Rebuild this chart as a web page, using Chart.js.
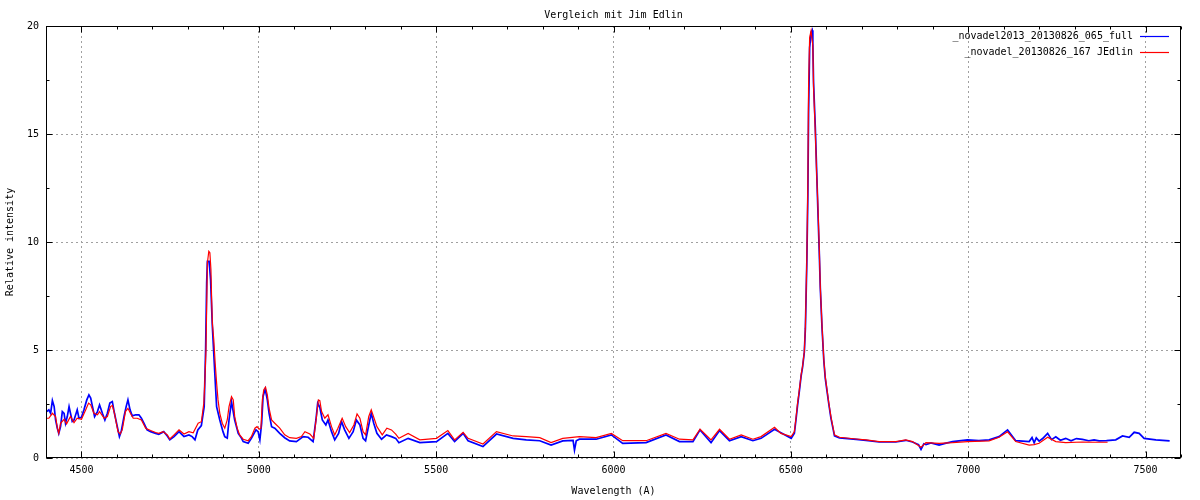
<!DOCTYPE html>
<html>
<head>
<meta charset="utf-8">
<title>Vergleich mit Jim Edlin</title>
<script src="https://cdn.jsdelivr.net/npm/chart.js@4.4.1/dist/chart.umd.min.js"></script>
<style>
  html, body { margin: 0; padding: 0; background: #fff; }
  #wrap { width: 1200px; height: 500px; }
</style>
</head>
<body>
<div id="wrap"><canvas id="myChart" width="1200" height="500"></canvas></div>
<script>
// spectrum 1 (blue)
var blueWave = [
  4402,4408,4413,4418,4423,4427,4432,4436,4441,4446,
  4451,4455,4460,4465,4469,4474,4479,4488,4493,4500,
  4507,4515,4521,4526,4530,4537,4545,4551,4559,4566,
  4573,4580,4587,4593,4601,4607,4612,4620,4626,4631,
  4637,4643,4653,4662,4669,4676,4685,4695,4709,4718,
  4732,4742,4749,4761,4775,4789,4803,4812,4820,4828,
  4838,4846,4850,4853,4855,4860,4864,4869,4876,4881,
  4890,4899,4904,4911,4916,4923,4932,4942,4951,4956,
  4970,4979,4992,4998,5003,5008,5012,5018,5024,5029,
  5036,5045,5059,5073,5087,5106,5125,5139,5153,5161,
  5166,5172,5179,5189,5195,5205,5214,5225,5233,5242,
  5254,5266,5275,5285,5294,5301,5311,5317,5324,5333,
  5346,5360,5374,5386,5395,5421,5454,5501,5533,5552,
  5576,5590,5632,5670,5717,5754,5792,5824,5857,5886,
  5890,5895,5904,5951,5994,6026,6092,6148,6186,6224,
  6244,6275,6299,6327,6360,6393,6416,6454,6472,6501,
  6510,6515,6519,6524,6529,6533,6538,6541,6545,6548,
  6550,6553,6557,6560,6562,6564,6569,6573,6576,6580,
  6583,6588,6593,6597,6602,6607,6613,6623,6637,6684,
  6712,6749,6796,6824,6843,6860,6867,6875,6881,6895,
  6918,6935,6956,6998,7030,7059,7087,7111,7134,7172,
  7180,7186,7192,7200,7210,7224,7235,7247,7260,7275,
  7290,7305,7322,7340,7355,7369,7390,7416,7435,7454,
  7468,7482,7496,7529,7568
];
var blueFlux = [
  2.15,2.23,2.07,2.66,2.38,1.76,1.38,1.14,1.45,2.15,
  2.07,1.61,1.92,2.38,2.07,1.69,1.76,2.23,1.84,1.89,
  2.23,2.69,2.92,2.77,2.46,1.92,2.15,2.46,2.07,1.76,
  2.07,2.54,2.61,2.07,1.45,0.99,1.22,1.92,2.38,2.69,
  2.23,1.95,2.0,2.0,1.84,1.61,1.3,1.22,1.14,1.1,
  1.22,1.02,0.84,0.99,1.22,0.99,1.07,0.99,0.84,1.3,
  1.5,2.38,5.0,8.1,9.1,9.1,8.26,6.1,3.9,2.38,
  1.76,1.22,0.99,0.92,1.76,2.61,1.76,1.14,0.92,0.76,
  0.68,0.91,1.3,1.22,0.84,1.61,2.85,3.19,2.69,2.07,
  1.45,1.38,1.14,0.94,0.79,0.76,0.99,0.96,0.76,1.76,
  2.54,2.35,1.76,1.53,1.76,1.22,0.84,1.14,1.69,1.3,
  0.91,1.22,1.76,1.53,0.91,0.8,1.61,2.07,1.61,1.14,
  0.87,1.07,0.99,0.91,0.71,0.91,0.71,0.76,1.14,0.76,
  1.14,0.8,0.53,1.11,0.91,0.84,0.8,0.6,0.79,0.82,
  0.37,0.8,0.87,0.87,1.07,0.68,0.71,1.07,0.76,0.76,
  1.3,0.71,1.27,0.8,0.99,0.8,0.91,1.33,1.17,0.91,
  1.15,1.85,2.45,3.1,3.8,4.2,4.9,6.0,9.0,12.2,
  16.0,19.0,19.7,19.8,19.2,17.4,15.3,13.2,11.6,9.6,
  7.9,6.0,4.5,3.7,3.1,2.5,1.85,1.02,0.93,0.86,
  0.82,0.74,0.74,0.82,0.74,0.62,0.4,0.66,0.62,0.7,
  0.6,0.68,0.76,0.84,0.8,0.84,0.99,1.3,0.8,0.76,
  0.95,0.7,0.93,0.78,0.9,1.14,0.85,0.98,0.82,0.91,
  0.8,0.9,0.86,0.8,0.84,0.79,0.8,0.84,1.02,0.96,
  1.19,1.14,0.91,0.84,0.79
];

// spectrum 2 (red, JEdlin)
var redWave = [
  4402,4408,4418,4427,4432,4436,4441,4451,4458,4469,
  4479,4488,4500,4512,4520,4526,4535,4545,4551,4564,
  4573,4582,4587,4593,4603,4609,4615,4624,4631,4638,
  4646,4657,4669,4681,4695,4709,4718,4730,4742,4749,
  4761,4775,4789,4803,4815,4829,4838,4845,4848,4851,
  4853,4855,4859,4862,4865,4867,4869,4873,4877,4881,
  4885,4890,4897,4904,4911,4916,4923,4928,4932,4939,
  4946,4956,4970,4979,4989,4995,5001,5006,5010,5014,
  5019,5024,5029,5036,5045,5059,5073,5087,5106,5120,
  5130,5144,5155,5162,5168,5172,5177,5186,5195,5205,
  5214,5223,5235,5245,5256,5268,5277,5285,5294,5301,
  5310,5317,5325,5333,5348,5361,5374,5386,5395,5421,
  5454,5501,5533,5552,5576,5590,5632,5670,5717,5754,
  5792,5824,5857,5904,5951,5994,6026,6092,6148,6186,
  6224,6244,6275,6299,6327,6360,6393,6416,6454,6472,
  6501,6510,6515,6519,6524,6529,6533,6538,6541,6545,
  6548,6550,6553,6557,6562,6564,6569,6573,6576,6580,
  6583,6588,6593,6597,6602,6607,6613,6623,6637,6684,
  6712,6749,6796,6824,6843,6867,6881,6918,6956,6998,
  7059,7087,7111,7134,7172,7186,7200,7224,7247,7275,
  7322,7369,7393
];
var redFlux = [
  1.84,1.84,2.07,1.92,1.38,1.14,1.61,1.79,1.58,1.92,
  1.64,1.84,1.79,2.23,2.54,2.46,2.07,2.0,2.15,1.84,
  1.92,2.38,2.43,2.07,1.22,1.11,1.3,2.15,2.3,2.07,
  1.84,1.84,1.76,1.38,1.27,1.18,1.14,1.22,1.07,0.88,
  1.07,1.3,1.11,1.22,1.17,1.61,1.68,2.54,3.62,5.01,
  7.02,9.03,9.57,9.5,8.72,7.33,6.25,5.48,4.39,3.47,
  2.69,2.07,1.61,1.38,1.76,2.38,2.84,2.69,1.92,1.38,
  1.07,0.87,0.8,0.99,1.38,1.45,1.33,1.38,2.69,3.16,
  3.28,2.92,2.3,1.76,1.61,1.38,1.07,0.94,0.91,0.99,
  1.22,1.11,0.91,1.84,2.69,2.66,2.15,1.84,2.0,1.45,
  1.07,1.38,1.84,1.45,1.18,1.53,2.04,1.84,1.22,1.07,
  1.92,2.23,1.84,1.45,1.07,1.38,1.3,1.11,0.91,1.14,
  0.84,0.91,1.27,0.84,1.19,0.91,0.65,1.22,1.02,0.99,
  0.94,0.71,0.91,0.99,0.94,1.14,0.8,0.8,1.14,0.87,
  0.84,1.33,0.84,1.33,0.87,1.07,0.87,0.99,1.42,1.14,
  0.99,1.22,1.92,2.54,3.16,3.85,4.24,4.93,6.09,9.19,
  12.75,17.23,19.47,19.78,19.09,17.2,15.07,13.05,11.82,9.8,
  7.95,6.09,4.55,3.77,3.16,2.54,1.92,1.07,0.96,0.88,
  0.84,0.76,0.76,0.84,0.76,0.5,0.71,0.68,0.71,0.76,
  0.79,0.96,1.21,0.76,0.6,0.62,0.68,0.96,0.76,0.71,
  0.74,0.73,0.73
];

var seriesLabels = ['_novadel2013_20130826_065_full', '_novadel_20130826_167 JEdlin'];
var chartTitle = 'Vergleich mit Jim Edlin';
var xTicks = [4500, 5000, 5500, 6000, 6500, 7000, 7500];
var yTicks = [0, 5, 10, 15, 20];

var monoFont = "'DejaVu Sans Mono', 'Liberation Mono', monospace";

function toPoints(wave, flux) {
  var pts = [];
  for (var i = 0; i < wave.length; i++) {
    pts.push({ x: wave[i], y: flux[i] });
  }
  return pts;
}

// ticks on all 4 sides, frame, title and key like gnuplot
const gnuplotStuff = {
  id: 'gnuplotStuff',
  afterDatasetsDraw(chart) {
    const ctx = chart.ctx;
    const a = chart.chartArea;
    const x = chart.scales.x;
    const y = chart.scales.y;
    const L = Math.round(a.left) + 0.5, R = Math.round(a.right) - 0.5;
    const T = Math.round(a.top) + 0.5, B = Math.round(a.bottom) - 0.5;
    ctx.save();
    ctx.strokeStyle = '#000';
    ctx.lineWidth = 1;
    ctx.beginPath();
    for (let v = 4400; v <= 7600; v += 100) {
      const px = Math.round(x.getPixelForValue(v)) + 0.5;
      const len = (v % 500 === 0) ? 6 : 3;
      ctx.moveTo(px, B); ctx.lineTo(px, B - len);
      ctx.moveTo(px, T); ctx.lineTo(px, T + len);
    }
    for (let v = 0; v <= 20; v += 2.5) {
      const py = Math.round(y.getPixelForValue(v)) + 0.5;
      const len = (v % 5 === 0) ? 6 : 3;
      ctx.moveTo(L, py); ctx.lineTo(L + len, py);
      ctx.moveTo(R, py); ctx.lineTo(R - len, py);
    }
    ctx.stroke();
    ctx.strokeRect(L, T, R - L, B - T);

    ctx.font = '10px ' + monoFont;
    ctx.fillStyle = '#000';
    ctx.textBaseline = 'middle';

    // title centred over the plot, not the canvas
    ctx.textAlign = 'center';
    ctx.fillText(chartTitle, (a.left + a.right) / 2, 15);

    // key
    ctx.textAlign = 'right';
    chart.data.datasets.forEach(function (ds, i) {
      const yy = 36 + i * 16;
      ctx.fillText(ds.label, 1133, yy);
      ctx.strokeStyle = ds.borderColor;
      ctx.lineWidth = 1.2;
      ctx.beginPath();
      ctx.moveTo(1140, Math.round(yy) + 0.5);
      ctx.lineTo(1169, Math.round(yy) + 0.5);
      ctx.stroke();
    });
    ctx.restore();
  }
};

const ctx = document.getElementById('myChart');

new Chart(ctx, {
  type: 'line',
  data: {
    datasets: [
      {
        label: seriesLabels[0],
        data: toPoints(blueWave, blueFlux),
        borderColor: '#0000ff',
        borderWidth: 1.7,
        pointRadius: 0,
        tension: 0,
        order: 1
      },
      {
        label: seriesLabels[1],
        data: toPoints(redWave, redFlux),
        borderColor: '#ff0000',
        borderWidth: 1.2,
        pointRadius: 0,
        tension: 0,
        order: 0
      }
    ]
  },
  options: {
    responsive: false,
    animation: false,
    layout: { padding: { left: 0, right: 19, top: 26, bottom: 0 } },
    plugins: {
      legend: { display: false },
      tooltip: { enabled: false },
      title: { display: false }
    },
    scales: {
      x: {
        type: 'linear',
        min: 4400,
        max: 7600,
        afterBuildTicks: function (scale) {
          scale.ticks = xTicks.map(function (v) { return { value: v }; });
        },
        afterFit: function (scale) { scale.height = 42; },
        ticks: {
          color: '#000',
          padding: 6,
          maxRotation: 0,
          font: { family: monoFont, size: 10 },
          callback: function (v) { return String(v); }
        },
        grid: { color: '#a0a0a0', lineWidth: 1, drawTicks: false },
        border: { display: false, dash: [2, 3] },
        title: {
          display: true,
          text: 'Wavelength (A)',
          color: '#000',
          font: { family: monoFont, size: 10 },
          padding: { top: 4, bottom: 3 }
        }
      },
      y: {
        min: 0,
        max: 20,
        afterBuildTicks: function (scale) {
          scale.ticks = yTicks.map(function (v) { return { value: v }; });
        },
        afterFit: function (scale) { scale.width = 46; },
        ticks: {
          color: '#000',
          padding: 7,
          font: { family: monoFont, size: 10 }
        },
        grid: { color: '#a0a0a0', lineWidth: 1, drawTicks: false },
        border: { display: false, dash: [2, 3] },
        title: {
          display: true,
          text: 'Relative intensity',
          color: '#000',
          font: { family: monoFont, size: 10 },
          padding: { top: 4, bottom: 0 }
        }
      }
    }
  },
  plugins: [gnuplotStuff]
});
</script>
</body>
</html>
